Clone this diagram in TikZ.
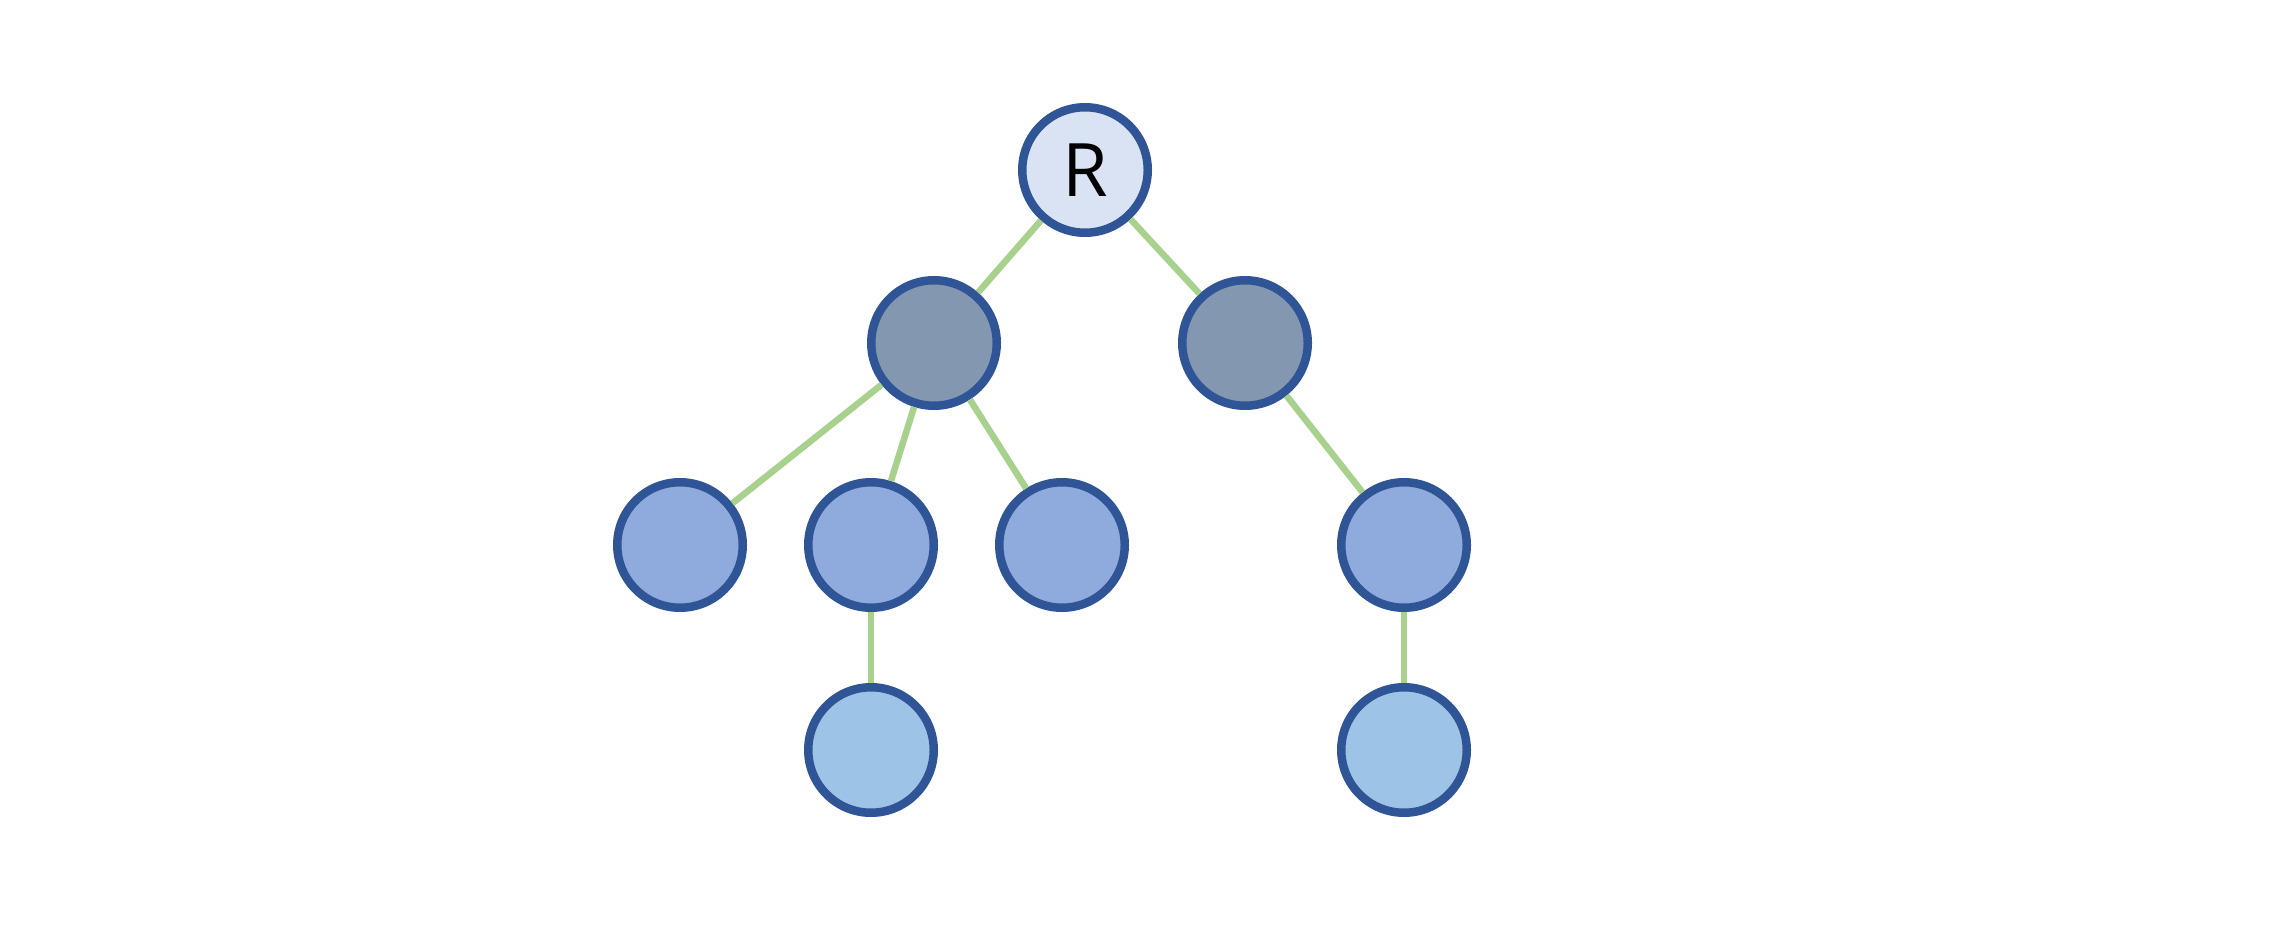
\documentclass[tikz,border=0pt]{standalone}
\usepackage{fontspec}
\setmainfont{Open Sans}
\definecolor{rimblue}{HTML}{2F5597}
\definecolor{rootfill}{HTML}{DAE3F3}
\definecolor{midfill}{HTML}{8497B0}
\definecolor{leaffill}{HTML}{8FAADC}
\definecolor{lowfill}{HTML}{9DC3E6}
\definecolor{edgegreen}{HTML}{A9D18E}
\tikzset{
    treenode/.style={circle, draw=rimblue, line width=0.085cm, minimum size=1.255cm, inner sep=0pt},
    treeedge/.style={draw=edgegreen, line width=0.065cm}
}
\begin{document}
\begin{tikzpicture}
        \useasboundingbox (0,0) rectangle (22.92,9.26);

        \node[treenode, fill=rootfill, font=\fontsize{21}{25}\selectfont] (root) at (10.85, 7.56) {R};

        \node[treenode, fill=midfill] (midL) at ( 9.34, 5.83) {};
        \node[treenode, fill=midfill] (midR) at (12.45, 5.83) {};

        \node[treenode, fill=leaffill] (leafA) at ( 6.80, 3.81) {};
        \node[treenode, fill=leaffill] (leafB) at ( 8.71, 3.81) {};
        \node[treenode, fill=leaffill] (leafC) at (10.62, 3.81) {};
        \node[treenode, fill=leaffill] (leafD) at (14.04, 3.81) {};

        \node[treenode, fill=lowfill] (lowB) at ( 8.71, 1.76) {};
        \node[treenode, fill=lowfill] (lowD) at (14.04, 1.76) {};

        \draw[treeedge] (root) -- (midL);
        \draw[treeedge] (root) -- (midR);
        \foreach \t in {leafA,leafB,leafC} {
                \draw[treeedge] (midL) -- (\t);
            }
        \draw[treeedge] (midR) -- (leafD);
        \draw[treeedge] (leafB) -- (lowB);
        \draw[treeedge] (leafD) -- (lowD);
    \end{tikzpicture}
\end{document}
